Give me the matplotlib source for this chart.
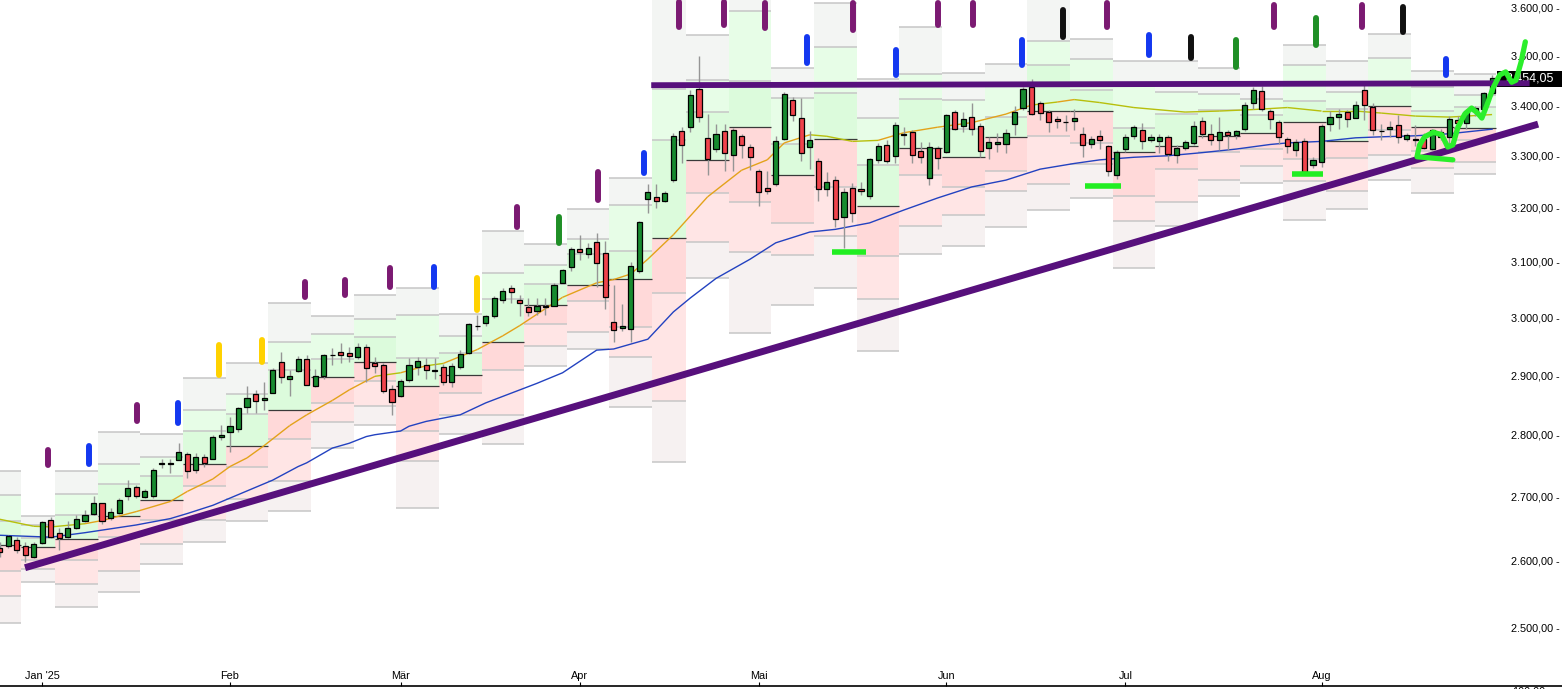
import numpy as np
import pandas as pd
import matplotlib
matplotlib.use("Agg")
import matplotlib.pyplot as plt
from matplotlib.collections import LineCollection
from matplotlib.lines import Line2D
from matplotlib.patches import Rectangle

plt.rcParams["font.family"] = ["Liberation Sans", "DejaVu Sans"]

# trading days shown (gold, daily)
holidays = ["2024-12-25", "2024-12-26", "2025-01-01", "2025-04-18"]
dates = pd.bdate_range("2024-12-23", "2025-08-29", freq="C", holidays=holidays)

opens = [2620, 2622, 2632, 2622, 2606, 2627, 2663, 2643, 2636, 2650,
         2661, 2673, 2689, 2666, 2674, 2701, 2715, 2699, 2701, 2752,
         2753, 2759, 2769, 2742, 2764, 2761, 2797, 2804, 2809, 2846,
         2868, 2857, 2870, 2923, 2893, 2907, 2927, 2881, 2898, 2934,
         2940, 2938, 2931, 2949, 2920, 2918, 2876, 2865, 2892, 2914,
         2918, 2908, 2914, 2888, 2914, 2938, 2986, 2991, 3002, 3031,
         3053, 3032, 3018, 3012, 3019, 3021, 3062, 3090, 3124, 3115,
         3136, 3116, 2993, 2982, 2980, 3083, 3217, 3221, 3213, 3253,
         3348, 3357, 3433, 3334, 3313, 3348, 3302, 3339, 3317, 3270,
         3237, 3246, 3332, 3411, 3375, 3317, 3290, 3236, 3253, 3183,
         3238, 3236, 3222, 3291, 3320, 3299, 3342, 3346, 3309, 3257,
         3315, 3308, 3387, 3358, 3377, 3358, 3316, 3322, 3323, 3363,
         3395, 3437, 3404, 3386, 3372, 3367, 3369, 3343, 3323, 3338,
         3318, 3262, 3313, 3339, 3350, 3331, 3329, 3336, 3301, 3316,
         3324, 3368, 3343, 3330, 3346, 3340, 3352, 3405, 3428, 3389,
         3367, 3332, 3311, 3329, 3283, 3288, 3363, 3377, 3386, 3375,
         3430, 3397, 3349, 3352, 3361, 3332, 3331, 3332, 3314, 3347,
         3336, 3371, 3365, 3389, 3392, 3424]
highs = [2628, 2640, 2636, 2628, 2628, 2662, 2667, 2650, 2662, 2670,
         2678, 2700, 2690, 2682, 2697, 2726, 2719, 2712, 2746, 2760,
         2760, 2786, 2772, 2770, 2768, 2799, 2816, 2830, 2846, 2882,
         2875, 2888, 2913, 2940, 2909, 2932, 2935, 2910, 2937, 2946,
         2955, 2948, 2956, 2953, 2931, 2920, 2883, 2894, 2930, 2931,
         2930, 2929, 2919, 2920, 2944, 2990, 3004, 3005, 3039, 3053,
         3058, 3041, 3034, 3035, 3034, 3062, 3087, 3128, 3149, 3135,
         3153, 3139, 3058, 3024, 3099, 3176, 3245, 3245, 3232, 3344,
         3357, 3431, 3500, 3383, 3363, 3362, 3354, 3343, 3322, 3274,
         3271, 3338, 3427, 3417, 3414, 3348, 3295, 3268, 3260, 3237,
         3247, 3249, 3296, 3325, 3330, 3366, 3356, 3350, 3327, 3327,
         3318, 3382, 3390, 3386, 3404, 3365, 3337, 3345, 3352, 3398,
         3437, 3452, 3408, 3390, 3379, 3380, 3393, 3357, 3338, 3351,
         3320, 3312, 3343, 3361, 3364, 3342, 3342, 3340, 3320, 3331,
         3369, 3377, 3362, 3376, 3350, 3351, 3406, 3436, 3438, 3392,
         3371, 3336, 3332, 3334, 3297, 3363, 3388, 3392, 3390, 3408,
         3445, 3405, 3363, 3369, 3381, 3344, 3361, 3345, 3352, 3352,
         3378, 3378, 3393, 3398, 3426, 3461]
lows = [2606, 2620, 2611, 2597, 2604, 2626, 2635, 2616, 2634, 2648,
        2659, 2671, 2657, 2663, 2672, 2694, 2698, 2697, 2698, 2746,
        2737, 2758, 2730, 2737, 2747, 2760, 2791, 2772, 2805, 2836,
        2836, 2841, 2869, 2886, 2865, 2905, 2883, 2880, 2894, 2917,
        2921, 2923, 2928, 2888, 2904, 2869, 2832, 2863, 2888, 2901,
        2893, 2893, 2883, 2880, 2911, 2936, 2978, 2986, 3000, 3026,
        3026, 3003, 3003, 3005, 3005, 3020, 3061, 3083, 3103, 3107,
        3054, 3016, 2957, 2976, 2957, 3080, 3190, 3200, 3212, 3250,
        3286, 3347, 3367, 3262, 3308, 3270, 3270, 3295, 3272, 3203,
        3226, 3241, 3330, 3368, 3289, 3275, 3213, 3222, 3165, 3125,
        3174, 3224, 3217, 3286, 3286, 3286, 3320, 3286, 3285, 3244,
        3275, 3306, 3350, 3346, 3340, 3298, 3294, 3307, 3306, 3340,
        3390, 3381, 3371, 3347, 3355, 3348, 3350, 3297, 3315, 3314,
        3260, 3256, 3308, 3332, 3313, 3326, 3305, 3290, 3285, 3311,
        3320, 3334, 3321, 3311, 3311, 3333, 3348, 3393, 3388, 3353,
        3323, 3305, 3300, 3266, 3276, 3279, 3348, 3352, 3357, 3374,
        3370, 3340, 3330, 3337, 3325, 3328, 3318, 3314, 3312, 3331,
        3322, 3358, 3352, 3378, 3386, 3418]
closes = [2613, 2638, 2616, 2608, 2625, 2659, 2637, 2634, 2650, 2664,
          2671, 2689, 2661, 2676, 2695, 2714, 2701, 2708, 2742, 2753,
          2752, 2772, 2741, 2764, 2754, 2796, 2800, 2815, 2844, 2861,
          2856, 2862, 2908, 2897, 2899, 2928, 2884, 2899, 2934, 2935,
          2935, 2933, 2949, 2913, 2916, 2873, 2854, 2890, 2918, 2924,
          2908, 2907, 2889, 2916, 2936, 2988, 2985, 3002, 3035, 3048,
          3045, 3025, 3010, 3020, 3020, 3058, 3085, 3124, 3118, 3126,
          3098, 3036, 2978, 2986, 3093, 3173, 3230, 3213, 3229, 3338,
          3321, 3421, 3376, 3293, 3342, 3305, 3351, 3320, 3297, 3230,
          3233, 3329, 3423, 3380, 3305, 3331, 3236, 3250, 3180, 3230,
          3190, 3232, 3294, 3318, 3290, 3360, 3341, 3301, 3297, 3317,
          3295, 3381, 3352, 3373, 3353, 3310, 3327, 3327, 3345, 3387,
          3432, 3383, 3385, 3366, 3368, 3366, 3374, 3321, 3332, 3330,
          3270, 3308, 3337, 3357, 3329, 3337, 3336, 3304, 3316, 3326,
          3359, 3343, 3330, 3347, 3340, 3348, 3400, 3431, 3393, 3373,
          3336, 3319, 3326, 3268, 3292, 3359, 3377, 3382, 3373, 3400,
          3400, 3350, 3348, 3356, 3336, 3340, 3332, 3316, 3350, 3336,
          3372, 3365, 3389, 3395, 3424, 3454.05]

# high / low / close of the week before the first shown week (Dec 16-20)
prev_week_hlc = [2664, 2586, 2622]

# moving averages (day index, value)
ma_fast_idx = [0, 4, 6, 10, 12, 16, 20, 22, 25, 27, 29, 31, 34, 36, 39, 41, 44, 47, 50, 52,
               56, 59, 61, 66, 70, 72, 74, 76, 79, 83, 87, 90, 92, 95, 97, 100, 103, 106, 110, 114,
               118, 121, 124, 126, 129, 133, 139, 143, 147, 151, 155, 159, 162, 166, 170, 175]
ma_fast_val = [2664, 2653, 2652, 2657, 2662, 2676, 2692, 2708, 2728, 2748, 2762, 2782, 2815, 2833, 2857,
               2875, 2898, 2904, 2916, 2920, 2944, 2968, 2986, 3036, 3062, 3068, 3078, 3105, 3150, 3221,
               3272, 3292, 3325, 3341, 3338, 3328, 3330, 3345, 3356, 3365, 3382, 3400, 3406, 3411, 3405,
               3395, 3386, 3388, 3391, 3395, 3388, 3388, 3384, 3378, 3376, 3381]
ma_slow_idx = [0, 4, 6, 10, 14, 16, 20, 22, 25, 32, 35, 36, 39, 41, 43, 44, 47, 48, 50, 54,
               57, 63, 66, 70, 72, 76, 79, 81, 84, 88, 91, 95, 98, 102, 106, 110, 114, 118, 122, 126,
               129, 133, 137, 141, 145, 149, 151, 155, 159, 162, 166, 170, 175]
ma_slow_val = [2639, 2637, 2636, 2643, 2651, 2655, 2665, 2673, 2686, 2726, 2748, 2754, 2778, 2786, 2797,
               2800, 2806, 2814, 2822, 2833, 2853, 2886, 2904, 2943, 2945, 2962, 3010, 3035, 3070, 3105,
               3135, 3155, 3160, 3172, 3196, 3219, 3240, 3253, 3274, 3285, 3292, 3297, 3300, 3306, 3313,
               3322, 3325, 3328, 3335, 3337, 3339, 3343, 3352]

month_labels = ["Jan '25", "Feb", "Mär", "Apr", "Mai", "Jun", "Jul", "Aug"]
y_ticks = [2500, 2600, 2700, 2800, 2900, 3000, 3100, 3200, 3300, 3400, 3500, 3600]
last_price = 3454.05

# hand drawn marks above the weeks: day index, top, bottom, colour code
mark_idx = [5.66, 10.5, 16.1, 20.9, 25.7, 30.8, 35.8, 40.5, 45.8, 50.9, 56.0, 60.7, 65.6, 70.2, 75.5,
            79.7, 84.9, 89.7, 94.7, 100.1, 105.1, 110.0, 114.1, 119.9, 124.7, 129.8, 134.8, 139.7,
            145.0, 149.4, 154.4, 159.8, 164.6, 169.6]
mark_top = [2775, 2781, 2849, 2853, 2952, 2961, 3063, 3067, 3089, 3091, 3071, 3202, 3183, 3269, 3305,
            3613, 3613, 3611, 3539, 3611, 3512, 3611, 3611, 3533, 3596, 3611, 3543, 3539, 3533, 3606,
            3579, 3606, 3602, 3493]
mark_bot = [2750, 2752, 2823, 2819, 2900, 2922, 3036, 3040, 3054, 3054, 3013, 3164, 3135, 3215, 3267,
            3560, 3564, 3558, 3485, 3554, 3461, 3564, 3564, 3481, 3539, 3560, 3502, 3495, 3477, 3560,
            3522, 3560, 3549, 3461]
mark_col = ["P", "B", "P", "B", "Y", "Y", "P", "P", "P", "B", "Y", "P", "G", "P", "B", "P", "P", "P",
            "B", "P", "B", "P", "P", "B", "K", "P", "B", "K", "G", "P", "G", "P", "K", "B"]
mark_colors = {"P": "#7b1a72", "B": "#1438f0", "Y": "#ffd200", "G": "#1f8f26", "K": "#111111"}

# trend lines, dashes and squiggle (day index, price)
trend_up = ([2.97, 180.4], [2589, 3362])
resistance = ([76.4, 179.4], [3440, 3444])
dashes = [([97.6, 101.6], [3118, 3118]), ([127.3, 131.5], [3242, 3242]), ([151.5, 155.2], [3264, 3264])]
sq_i = [170.4, 166.2, 166.5, 167.1, 168.1, 169.1, 169.8, 170.4, 171.0, 171.8, 172.6, 173.3, 173.8,
        174.4, 175.1, 175.9, 176.6, 177.3, 177.8, 178.4, 178.9]
sq_p = [3292, 3298, 3321, 3337, 3346, 3341, 3317, 3321, 3356, 3382, 3394, 3384, 3374, 3400, 3434,
        3461, 3467, 3446, 3450, 3487, 3529]


def de(v):
    return f"{v:,.2f}".replace(",", "X").replace(".", ",").replace("X", ".")


W, H = 1562, 689
fig = plt.figure(figsize=(W / 100, H / 100), dpi=100)
ax = fig.add_axes([0, 3 / H, 1500 / W, 686 / H])
ax.set_yscale("log")

x = np.arange(len(dates))
df = pd.DataFrame({"o": opens, "h": highs, "l": lows, "c": closes, "x": x,
                   "wk": dates.to_period("W-SUN")})

# weekly pivot zones from the previous week
prev = prev_week_hlc
for wk, g in df.groupby("wk", sort=True):
    ph, pl, pc = prev
    p = (ph + pl + pc) / 3
    r1, s1 = 2 * p - pl, 2 * p - ph
    r2, s2 = p + (ph - pl), p - (ph - pl)
    r3, s3 = ph + 2 * (p - pl), pl - 2 * (ph - p)
    x0 = g.x.min() - 0.5
    w = g.x.max() - g.x.min() + 1
    zones = [(r2, r3, "#f3f5f3"), (r1, r2, "#e7fde7"), (p, r1, "#dcfbdc"),
             (s1, p, "#ffd9d9"), (s2, s1, "#ffe5e5"), (s3, s2, "#f6f1f1")]
    for lo, hi, col in zones:
        ax.bar(x0, hi - lo, bottom=lo, width=w, align="edge", color=col, linewidth=0, zorder=0)
    ax.hlines([r3, r2, r1, s1, s2, s3], x0, x0 + w, color="#c6c6c6", lw=1.1, zorder=1)
    ax.hlines(p, x0, x0 + w, color="#3a3a3a", lw=0.9, zorder=1.2)
    prev = [g.h.max(), g.l.min(), g.c.iloc[-1]]

# moving averages
fi, fv = np.array(ma_fast_idx), np.array(ma_fast_val)
segs = [[(fi[k], fv[k]), (fi[k + 1], fv[k + 1])] for k in range(len(fi) - 1)]
slope = np.diff(fv) / np.diff(fi)
cols = ["#e3a21a" if s > 2 else "#b7bf0c" for s in slope]
ax.add_collection(LineCollection(segs, colors=cols, linewidths=1.0, zorder=2))
ax.plot(ma_slow_idx, ma_slow_val, color="#2342c0", lw=1.0, zorder=2)

# candles
o, c = np.array(opens), np.array(closes)
up = c >= o
ax.vlines(x, lows, highs, color="#959595", lw=1.0, zorder=3)
ax.bar(x, np.abs(c - o), bottom=np.minimum(o, c), width=0.6,
       color=np.where(up, "#178b2f", "#f0444c"), edgecolor="black", linewidth=0.9, zorder=4)

# drawings
for i, t, b, k in zip(mark_idx, mark_top, mark_bot, mark_col):
    ax.plot([i, i], [b, t], color=mark_colors[k], lw=4.3, solid_capstyle="round", zorder=6)
ax.plot(*trend_up, color="#57107c", lw=5.0, solid_capstyle="butt", clip_on=False, zorder=8)
ax.plot(*resistance, color="#57107c", lw=4.2, solid_capstyle="butt", clip_on=False, zorder=8)
for dx, dy in dashes:
    ax.plot(dx, dy, color="#22ee22", lw=4.0, solid_capstyle="butt", zorder=7)
ax.plot(sq_i, sq_p, color="#2bee2b", lw=3.8, solid_capstyle="round", solid_joinstyle="round",
        clip_on=False, zorder=9)

# last price label
ytr = ax.get_yaxis_transform()
ax.add_patch(Rectangle((1497 / 1500, 3436.4), 70 / 1500, 32.5, transform=ytr,
                       facecolor="black", edgecolor="none", clip_on=False, zorder=6.5))
ax.text(1506 / 1500, last_price, de(last_price), transform=ytr, color="white",
        fontsize=9, va="center", ha="left", zorder=7)

# axes
ax.set_xlim(0.035, 175.93)
ax.set_ylim(2414.8, 3617.0)
ax.set_yticks(y_ticks, labels=[de(v) + " -" for v in y_ticks])
ax.yaxis.set_minor_locator(plt.NullLocator())
ax.yaxis.set_minor_formatter(plt.NullFormatter())
ax.tick_params(axis="y", which="both", left=False, right=True, labelleft=False, labelright=True,
               length=0, pad=8, labelsize=7.8)

month_pos = [np.where((dates.year == 2025) & (dates.month == m))[0][0] for m in range(1, 9)]
ax.set_xticks(month_pos, labels=month_labels)
ax.tick_params(axis="x", direction="in", length=3, width=0.8, pad=-11, labelsize=7.8)
for s in ax.spines.values():
    s.set_visible(False)
ax.add_line(Line2D([0, W / 1500], [0, 0], transform=ax.transAxes, color="black", lw=1.2,
                   clip_on=False, zorder=10))
ax.text(1512 / 1500, -0.5 / 686, "100,00", transform=ax.transAxes, va="top", ha="left",
        fontsize=7.8, clip_on=False)

fig.savefig("out.png", dpi=100)
